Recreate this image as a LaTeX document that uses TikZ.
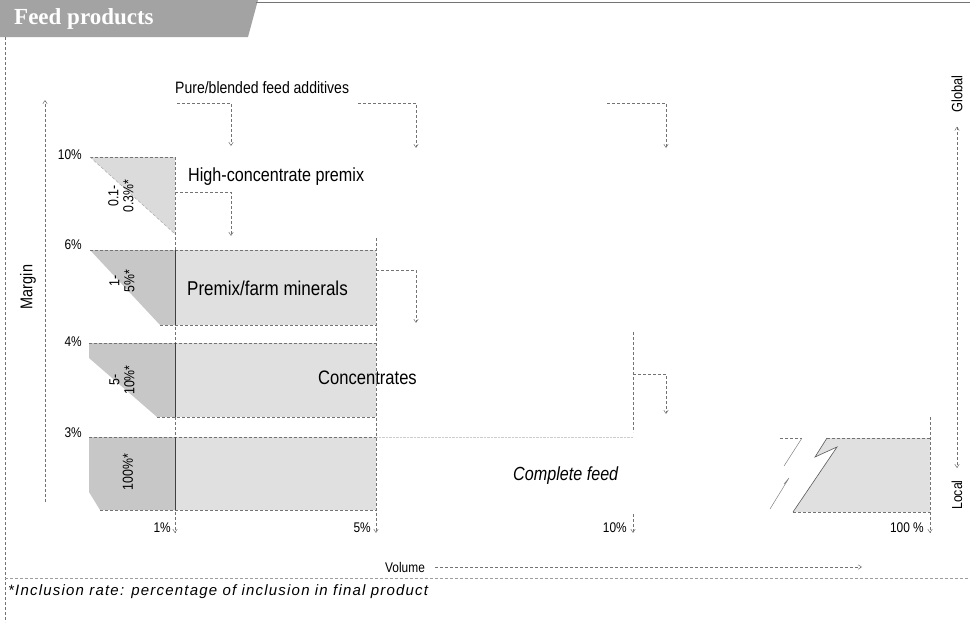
\documentclass[tikz,border=0pt]{standalone}
\usepackage{fontspec}
\setmainfont{Liberation Sans}[FakeStretch=0.85]
\newfontfamily\footfont{Liberation Sans}
\newfontfamily\headfont{Liberation Serif}
\usetikzlibrary{arrows.meta}
\definecolor{leftfill}{gray}{0.78}
\definecolor{rightfill}{gray}{0.88}
\definecolor{topfill}{gray}{0.86}
\definecolor{band}{gray}{0.64}
\definecolor{lineg}{gray}{0.45}
\begin{document}
\begin{tikzpicture}[x=1pt,y=-1pt,
  dl/.style={densely dashed, line width=0.5pt, draw=lineg},
  conn/.style={dl, -{Straight Barb[length=3.5pt,width=4.5pt]}},
  solidedge/.style={line width=0.9pt, draw=black!75},
  lbl/.style={font=\fontsize{19}{21}\selectfont, inner sep=0pt, anchor=west},
  pct/.style={font=\fontsize{14}{15}\selectfont, inner sep=0pt},
  rl/.style={rotate=90, align=center, font=\fontsize{14.5}{15}\selectfont, inner sep=0pt},
]
\useasboundingbox (0,0) rectangle (970,622);

% header
\fill[band] (0,0) -- (258,0) -- (248,37) -- (0,37) -- cycle;
\node[text=white, font=\headfont\bfseries\fontsize{23}{25}\selectfont, anchor=west, inner sep=0pt] (title) at (14,19) {Feed products};
\coordinate (hl1) at (256,2);
\coordinate (hl2) at (970,2);
\draw[lineg, line width=0.6pt] (hl1) -- (hl2);
\coordinate (bl1) at (5,37);
\coordinate (bl2) at (5,622);
\draw[dl] (bl1) -- (bl2);

% top label and its connectors
\node[font=\fontsize{16.5}{18}\selectfont, inner sep=0pt, anchor=west] (pure) at (175,88) {Pure/blended feed additives};
\coordinate (a1) at (177,103); \coordinate (a2) at (231,103); \coordinate (a3) at (231,146);
\coordinate (b1) at (358,103); \coordinate (b2) at (416,103); \coordinate (b3) at (416,148);
\coordinate (d1) at (607,103); \coordinate (d2) at (666,103); \coordinate (d3) at (666,148);
\draw[conn] (a1) -- (a2) -- (a3);
\draw[conn] (b1) -- (b2) -- (b3);
\draw[conn] (d1) -- (d2) -- (d3);

% margin axis
\coordinate (m1) at (45,502); \coordinate (m2) at (45,100);
\draw[conn] (m1) -- (m2);
\node[rotate=90, font=\fontsize{17}{18}\selectfont, inner sep=0pt] (margin) at (28,287) {Margin};
\node[pct, anchor=east] (p10) at (82,155) {10\%};
\node[pct, anchor=east] (p6) at (82,245) {6\%};
\node[pct, anchor=east] (p4) at (82,342) {4\%};
\node[pct, anchor=east] (p3) at (82,433) {3\%};

% row 1
\fill[topfill] (90,157) -- (175,157) -- (175,234) -- cycle;
\draw[dl] (90,157) -- (175,157);
\draw[dl, draw=lineg!60] (90,157) -- (175,234);
\node[rl] (r1) at (121,196) {0.1-\\0.3\%*};
\node[lbl] (hcp) at (188,177) {High-concentrate premix};
\coordinate (e1) at (175,192); \coordinate (e2) at (231,192); \coordinate (e3) at (231,236);
\draw[conn] (e1) -- (e2) -- (e3);

% row 2
\fill[leftfill] (90,250) -- (175,250) -- (175,325) -- (160,325) -- cycle;
\fill[rightfill] (175,250) rectangle (376,325);
\draw[dl] (90,250) -- (376,250);
\draw[dl] (160,325) -- (376,325);
\node[rl] (r2) at (122,281) {1-\\5\%*};
\node[lbl, font=\fontsize{20}{22}\selectfont] (pfm) at (187,288) {Premix/farm minerals};
\coordinate (f1) at (376,270); \coordinate (f2) at (416,270); \coordinate (f3) at (416,323);
\draw[conn] (f1) -- (f2) -- (f3);

% row 3
\fill[leftfill] (89,343) -- (175,343) -- (175,417) -- (157,417) -- (89,358) -- cycle;
\fill[rightfill] (175,343) rectangle (376,417);
\draw[dl] (89,343) -- (376,343);
\draw[dl] (157,417) -- (376,417);
\node[rl] (r3) at (122,380) {5-\\10\%*};
\node[lbl, font=\fontsize{19.5}{21}\selectfont] (conc) at (318,378) {Concentrates};
\coordinate (g1) at (633,374); \coordinate (g2) at (666,374); \coordinate (g3) at (666,414);
\draw[conn] (g1) -- (g2) -- (g3);

% row 4
\fill[leftfill] (89,437) -- (175,437) -- (175,510) -- (100,510) -- (89,492) -- cycle;
\fill[rightfill] (175,437) rectangle (376,510);
\draw[dl] (89,437) -- (376,437);
\draw[dl] (100,510) -- (376,510);
\draw[densely dotted, draw=black!20] (376,437) -- (633,437);
\node[rl] (r4) at (128,472) {100\%*};
\node[lbl, font=\itshape\fontsize{19}{21}\selectfont] (cf) at (513,476) {Complete feed};

% far right broken piece
\fill[rightfill] (827,438) -- (930,438) -- (930,512) -- (793,512) -- (837,447) -- (815,457) -- cycle;
\draw[dl] (827,438) -- (930,438);
\draw[dl] (793,512) -- (930,512);
\draw[line width=0.6pt, draw=black!65] (793,512) -- (837,447) -- (815,457) -- (827,438);
\draw[dl] (780,438) -- (802,438);
\draw[line width=0.5pt, draw=black!50] (802,438) -- (784,466);
\draw[line width=0.5pt, draw=black!50] (784,484) -- (789,478) -- (770,509);

% vertical volume lines
\coordinate (v1a) at (175,157); \coordinate (v1b) at (175,533);
\draw[conn] (v1a) -- (v1b);
\draw[solidedge] (175,250) -- (175,325);
\draw[solidedge] (175,343) -- (175,417);
\draw[solidedge] (175,437) -- (175,510);
\coordinate (v2a) at (376,238); \coordinate (v2b) at (376,533);
\draw[conn] (v2a) -- (v2b);
\coordinate (v3a) at (633,332); \coordinate (v3b) at (633,432);
\draw[dl] (v3a) -- (v3b);
\coordinate (v3c) at (633,514); \coordinate (v3d) at (633,533);
\draw[conn] (v3c) -- (v3d);
\coordinate (v4a) at (930,417); \coordinate (v4b) at (930,533);
\draw[conn] (v4a) -- (v4b);

\node[pct, anchor=east] (x1) at (171,528) {1\%};
\node[pct, anchor=east] (x5) at (371,528) {5\%};
\node[pct, anchor=east] (x10) at (627,528) {10\%};
\node[pct, anchor=east] (x100) at (924,528) {100 \%};

% global/local axis
\node[rotate=90, font=\fontsize{15}{16}\selectfont, inner sep=0pt] (global) at (957,94) {Global};
\node[rotate=90, font=\fontsize{14.5}{16}\selectfont, inner sep=0pt] (local) at (957,495) {Local};
\draw[dl, {Straight Barb[length=3.5pt,width=4.5pt]}-{Straight Barb[length=3.5pt,width=4.5pt]}] ([yshift=-14pt]global.west) -- ([yshift=12pt]local.east);

% volume axis
\node[font=\fontsize{14}{15}\selectfont, inner sep=0pt, anchor=west] (vol) at (385,567) {Volume};
\coordinate (volend) at (862,567);
\draw[conn] ([xshift=10pt]vol.east) -- (volend);

% footnote
\coordinate (s1) at (5,578); \coordinate (s2) at (970,578);
\draw[dl, draw=lineg!70] (s1) -- (s2);
\node[font=\footfont\itshape\fontsize{15}{16}\selectfont\addfontfeature{LetterSpace=8}, inner sep=0pt, anchor=west] (foot) at (8,592) {*Inclusion rate: percentage of inclusion in final product};
\end{tikzpicture}
\end{document}
